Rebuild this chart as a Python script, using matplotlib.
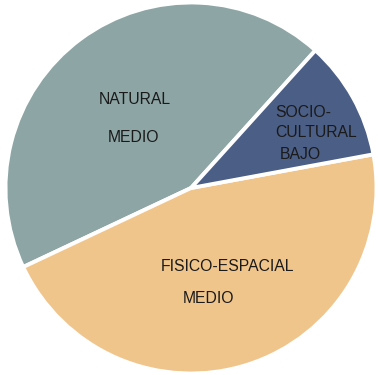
import matplotlib.pyplot as plt

# slices in drawing order (counter-clockwise from the natural/socio border)
names = ["NATURAL", "FISICO-ESPACIAL", "SOCIO-CULTURAL"]
values = [43.7, 45.9, 10.4]
colors = ["#8ea5a5", "#f0c58c", "#4b5e86"]
explode = [0, 0, 0.03]

# text lines: (text, x, y in pixels from top-left, alignment)
lines = [
    ("NATURAL", 135, 98.5, 'center'),
    ("MEDIO", 133.5, 136.5, 'center'),
    ("FISICO-ESPACIAL", 227.5, 265, 'center'),
    ("MEDIO", 208, 297, 'center'),
    ("SOCIO-", 275, 111, 'left'),
    ("CULTURAL", 275, 131, 'left'),
    ("BAJO", 280, 153, 'left'),
]

plt.rcParams['font.family'] = ['Liberation Sans', 'DejaVu Sans']

fig = plt.figure(figsize=(3.78, 3.75), dpi=100)
ax = fig.add_axes([0, 0, 1, 1])

ax.pie(values, colors=colors, explode=explode, startangle=47.9,
       center=(191, 187), radius=185.5,
       wedgeprops={'edgecolor': 'white', 'linewidth': 2.8})
ax.set_xlim(0, 378)
ax.set_ylim(0, 375)
ax.axis('off')

for text, x, y, ha in lines:
    ax.text(x, 375 - y, text, ha=ha, va='center_baseline', fontsize=11.3,
            color='#1a1a1a')

plt.savefig("out.png", dpi=100)
